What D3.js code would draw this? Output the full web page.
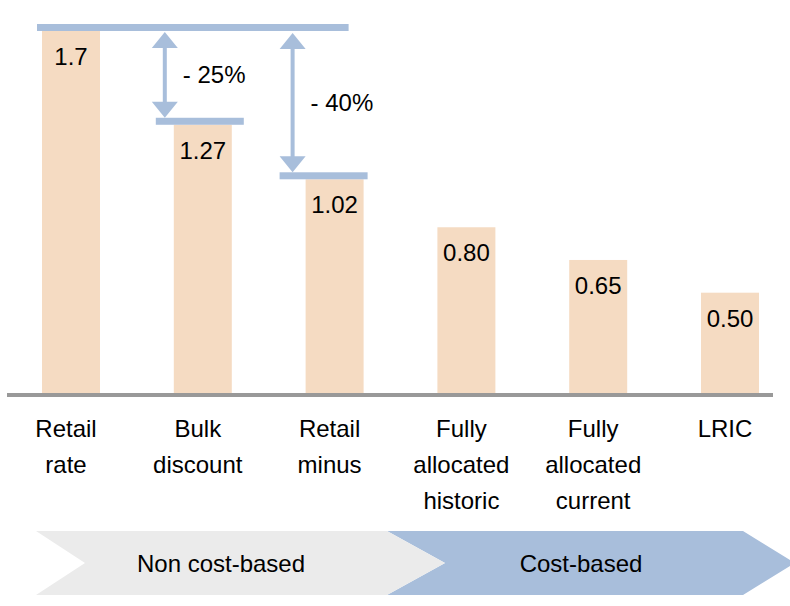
<!DOCTYPE html>
<html>
<head>
<meta charset="utf-8">
<script src="https://cdn.jsdelivr.net/npm/d3@7"></script>
<style>
  html, body { margin: 0; padding: 0; background: #fff; }
  svg { display: block; font-family: Arial, "Liberation Sans", Helvetica, sans-serif; }
</style>
</head>
<body>
<svg id="chart" width="790" height="606"></svg>
<script>
// Charging approaches and their indicative rates
const categories = ["Retail rate", "Bulk discount", "Retail minus", "Fully allocated historic", "Fully allocated current", "LRIC"];
const labelLines = [["Retail", "rate"], ["Bulk", "discount"], ["Retail", "minus"], ["Fully", "allocated", "historic"], ["Fully", "allocated", "current"], ["LRIC"]];
const rates = [1.7, 1.27, 1.02, 0.80, 0.65, 0.50];
const rateLabels = ["1.7", "1.27", "1.02", "0.80", "0.65", "0.50"];
// Discounts shown against the retail rate
const discountFrom = ["Retail rate", "Retail rate"];
const discountTo = ["Bulk discount", "Retail minus"];
// Grouping band underneath the categories
const groupNames = ["Non cost-based", "Cost-based"];

const svg = d3.select("#chart");
const FONT = 24;
const barColor = "#F5DBC2";
const blue = "#A8BEDB";

const x = d3.scaleBand().domain(categories).range([42, 759]).paddingInner(0.56).paddingOuter(0);
const y = d3.scaleLinear().domain([0.04, 1.7]).range([393, 31]);
const bw = x.bandwidth();
const rateOf = c => rates[categories.indexOf(c)];

// bars
svg.append("g").selectAll("rect").data(categories).join("rect")
  .attr("x", d => x(d))
  .attr("y", (d, i) => y(rates[i]))
  .attr("width", bw)
  .attr("height", (d, i) => y.range()[0] - y(rates[i]) + 2)
  .attr("fill", barColor);

// value labels inside the bars
svg.append("g").selectAll("text").data(categories).join("text")
  .attr("x", d => x(d) + bw / 2)
  .attr("y", (d, i) => y(rates[i]) + 34)
  .attr("text-anchor", "middle")
  .attr("font-size", FONT)
  .attr("fill", "#000")
  .text((d, i) => rateLabels[i]);

// baseline
const xAxis = d3.axisBottom(x).tickSize(0).tickFormat("");
const axisG = svg.append("g").attr("transform", `translate(0,${y.range()[0] + 2})`).call(xAxis);
axisG.select(".domain").attr("d", "M7,0H773").attr("stroke", "#999").attr("stroke-width", 4);

// category labels
const lab = svg.append("g").selectAll("text").data(categories).join("text")
  .attr("text-anchor", "middle")
  .attr("font-size", FONT)
  .attr("fill", "#000");
lab.each(function(d, i) {
  const cx = x(d) + bw / 2 - 5;
  d3.select(this).selectAll("tspan").data(labelLines[i]).join("tspan")
    .attr("x", cx)
    .attr("y", (t, j) => 437 + j * 36)
    .text(t => t);
});

// reference levels (thick bars at the top of each compared rate)
const levelH = 7;
const levels = [
  { x0: x(categories[0]) - 5, x1: x(categories[2]) + 43, v: rateOf(categories[0]) },
  { x0: x(discountTo[0]) - 18, x1: x(discountTo[0]) + bw + 12, v: rateOf(discountTo[0]) },
  { x0: x(discountTo[1]) - 26, x1: x(discountTo[1]) + bw + 4, v: rateOf(discountTo[1]) }
];
svg.append("g").selectAll("rect").data(levels).join("rect")
  .attr("x", d => d.x0)
  .attr("y", d => y(d.v) - levelH)
  .attr("width", d => d.x1 - d.x0)
  .attr("height", levelH)
  .attr("fill", blue);

// double-headed arrows with percentage labels
const arrows = discountTo.map((c, i) => ({
  ax: x(c) - (i === 0 ? 9 : 13),
  top: y(rateOf(discountFrom[i])) + 1 + i,
  bot: y(rateOf(c)) - levelH,
  pct: Math.round((1 - rateOf(c) / rateOf(discountFrom[i])) * 100)
}));
const headW = 13, headH = 16, shaft = 4;
const ag = svg.append("g").selectAll("g").data(arrows).join("g");
ag.append("rect")
  .attr("x", d => d.ax - shaft / 2)
  .attr("y", d => d.top + headH - 1)
  .attr("width", shaft)
  .attr("height", d => d.bot - d.top - 2 * headH + 2)
  .attr("fill", blue);
ag.append("path")
  .attr("d", d => `M${d.ax},${d.top}L${d.ax + headW},${d.top + headH}L${d.ax - headW},${d.top + headH}Z`)
  .attr("fill", blue);
ag.append("path")
  .attr("d", d => `M${d.ax},${d.bot}L${d.ax + headW},${d.bot - headH}L${d.ax - headW},${d.bot - headH}Z`)
  .attr("fill", blue);
ag.append("text")
  .attr("x", d => d.ax + 18)
  .attr("y", d => (d.top + d.bot) / 2 + 8)
  .attr("font-size", FONT)
  .attr("fill", "#000")
  .text(d => "- " + d.pct + "%");

// chevron band
const cy0 = 531, cy1 = 595, cm = (cy0 + cy1) / 2;
const chevrons = [
  { name: groupNames[0], fill: "#EBEBEB", x0: 36, x1: 387, notch: 49, tip: 58 },
  { name: groupNames[1], fill: blue, x0: 387, x1: 743, notch: 58, tip: 52 }
];
const cg = svg.append("g").selectAll("g").data(chevrons).join("g");
cg.append("path")
  .attr("d", d => `M${d.x0},${cy0}L${d.x1},${cy0}L${d.x1 + d.tip},${cm}L${d.x1},${cy1}L${d.x0},${cy1}L${d.x0 + d.notch},${cm}Z`)
  .attr("fill", d => d.fill);
cg.append("text")
  .attr("x", (d, i) => i === 0 ? 221 : 581)
  .attr("y", cm + 9)
  .attr("text-anchor", "middle")
  .attr("font-size", FONT)
  .attr("fill", "#000")
  .text(d => d.name);
// grey chevron tip overlays the blue one's notch
cg.filter((d, i) => i === 0).raise();
</script>
</body>
</html>
